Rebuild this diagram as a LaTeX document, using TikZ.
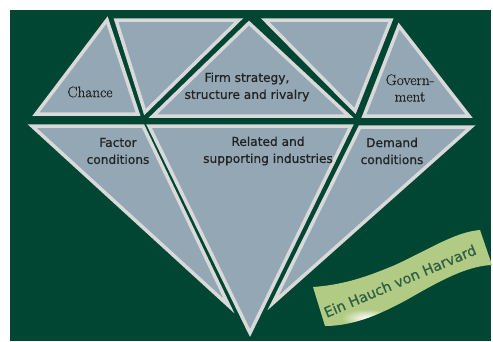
\documentclass[tikz,border=0pt]{standalone}
\usepackage{fontspec}
\newfontfamily\facetsans{DejaVu Sans}[FakeBold=0.6]
\newfontfamily\facetserif{Latin Modern Roman}[FakeBold=0.6]
\usetikzlibrary{positioning,fadings}
\definecolor{porterbg}{HTML}{004633}
\definecolor{facetfill}{HTML}{93A8B4}
\definecolor{facetline}{HTML}{D9D9D9}
\definecolor{labeltext}{HTML}{222222}
\definecolor{bannerlight}{HTML}{D6E8AE}
\definecolor{bannerdark}{HTML}{B2CB84}
\definecolor{bannertext}{HTML}{2F5F45}
\tikzfading[name=glowfade, inner color=transparent!0, outer color=transparent!100]

\begin{document}
\begin{tikzpicture}[x=1pt, y=-1pt,
    facet/.style={fill=facetfill, draw=facetline, line width=3.5pt, line join=miter},
    sanslabel/.style={align=center, text=labeltext, inner sep=0pt, font=\facetsans\fontsize{12.2}{17}\selectfont},
    seriflabel/.style={align=center, text=labeltext, inner sep=0pt, font=\facetserif\fontsize{15.2}{16.5}\selectfont}]
        \useasboundingbox (0,0) rectangle (493,341);
        \fill[porterbg] (10,10) rectangle (491,341);

        %% Upper row of the diamond
        \draw[facet] (107,20) -- (36,114) -- (138,114) -- cycle;
        \draw[facet] (116,20) -- (239,20) -- (145,112) -- cycle;
        \draw[facet] (249,23) -- (153,116) -- (349,116) -- cycle;
        \draw[facet] (265,20) -- (391,20) -- (355,111) -- cycle;
        \draw[facet] (399,26) -- (364,116) -- (469,116) -- cycle;

        %% Lower row of the diamond
        \draw[facet] (32,126) -- (143,126) -- (229,306) -- cycle;
        \draw[facet] (149,126) -- (351,126) -- (250,333) -- cycle;
        \draw[facet] (360,127) -- (471,127) -- (273,303) -- cycle;

        %% Labels
        \node[seriflabel] (chance) at (90,92) {Chance};
        \node[sanslabel] (firm) at (247,87) {Firm strategy,\\structure and rivalry};
        \node[seriflabel] (govt) at (410,88) {Govern-\\ment};
        \node[sanslabel] (factor) at (118,151) {Factor\\conditions};
        \node[sanslabel] (related) at (268,151) {Related and\\supporting industries};
        \node[sanslabel] (demand) at (392,151) {Demand\\conditions};

        %% Banner
        \coordinate (btl) at (313,287);
        \coordinate (bbl) at (325,326);
        \coordinate (btr) at (480,230);
        \coordinate (bbr) at (492,265);
        \begin{scope}
            \clip (btl) .. controls (340,285) and (362,279) .. (395,265)
                .. controls (430,249) and (455,232) .. (btr) -- (bbr)
                .. controls (470,266) and (448,276) .. (410,298)
                .. controls (376,317) and (350,326) .. (bbl) -- cycle;
            \shade[left color=bannerdark, middle color=bannerlight, right color=bannerdark, shading angle=80] (305,225) rectangle (495,330);
            \fill[white, path fading=glowfade] (367,318) ellipse (26 and 9);
        \end{scope}
        \node[rotate=23, text=bannertext, inner sep=0pt, font=\facetsans\fontsize{14.2}{18}\selectfont] (harvard) at (400,281) {Ein Hauch von Harvard};
\end{tikzpicture}
\end{document}
